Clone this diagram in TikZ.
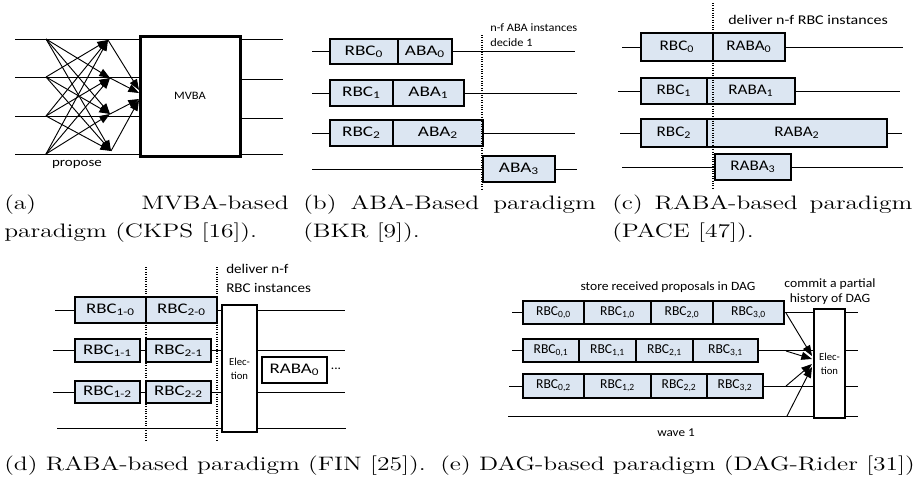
\documentclass[tikz,border=0pt]{standalone}
\usepackage{fontspec}
\usepackage{graphicx}
\newfontfamily\cf{Carlito}
\usetikzlibrary{arrows.meta,fit,calc}
\definecolor{boxblue}{RGB}{220,230,242}
\newcommand\hs[2][1.2]{\scalebox{#1}[1]{#2}}
\newcommand\bB[1]{\hs[1.31]{#1}}
\newcommand\bC[1]{\hs[1.17]{#1}}
\newcommand\bD[1]{\hs[1.29]{#1}}
\newcommand\bE[1]{\hs[1.0]{#1}}
\newcommand\cp[1]{\hs[1.31]{#1}}
\tikzset{
  ln/.style={line width=0.75pt},
  lbl/.style={font=\cf\fontsize{11}{12}\selectfont, inner sep=0pt},
  lble/.style={font=\cf\fontsize{10.2}{12}\selectfont, inner sep=0pt},
  bx/.style={draw, fill=boxblue, line width=0.8pt, inner sep=0pt},
  wbx/.style={bx, fill=white},
  ebx/.style={draw, fill=white, line width=0.8pt, inner sep=0pt},
  elbl/.style={align=center, inner sep=0pt, font=\cf\fontsize{8}{10.5}\selectfont},
  dots/.style={densely dotted, line width=0.8pt},
  captxt/.style={font=\fontsize{14.6}{18}\selectfont, inner sep=0pt, anchor=base west},
  arr/.style={-{Triangle[length=8pt,width=6pt]}, line width=0.7pt},
}
\begin{document}
\begin{tikzpicture}[x=0.75pt,y=-0.75pt]
\useasboundingbox (0,0) rectangle (914,487);

% ---------- (a) ----------
\node[draw, line width=2.25pt, inner sep=0pt, fit={(140,36)(240,156)}, label={[inner sep=0pt, font=\cf\fontsize{8.5}{11}\selectfont]center:{\hs[1.1]{MVBA}}}] (mv) {};
\foreach \i/\y in {0/39,1/77,2/116,3/154} {
  \coordinate (L\i) at (15,\y);
  \coordinate (S\i) at (46,\y);
  \draw[ln] (L\i) -- (L\i -| mv.west);
}
\foreach \i/\y in {0/39,1/79,2/118,3/154} {
  \coordinate (R\i) at (283,\y);
  \draw[ln] (mv.east |- R\i) -- (R\i);
}
\coordinate (T0) at (108,40);
\coordinate (T1) at (110,78);
\coordinate (T2) at (110,114);
\coordinate (T3) at (111,151);
\foreach \i in {0,1,2,3} {
  \foreach \j in {0,1,2,3} {
    \ifnum\i=\j\else \draw[arr] (S\i) -- (T\j); \fi
  }
}
\coordinate (M0) at (139,90);
\coordinate (M1) at (139,93);
\coordinate (M2) at (139,99);
\coordinate (M3) at (139,100);
\foreach \i in {0,1,2,3} { \draw[arr] (T\i) -- (M\i); }
\node[font=\cf\fontsize{9.5}{12}\selectfont, inner sep=0pt] (prop) at (77,164.5) {\hs[1.18]{propose}};

% ---------- (b) ----------
\node[bx, fit={(330,39)(398,64)}, label={[lbl]center:{\bB{RBC\textsubscript{0}}}}] (b0r) {};
\node[bx, fit={(398,39)(452,64)}, label={[lbl]center:{\bB{ABA\textsubscript{0}}}}] (b0a) {};
\node[bx, fit={(330,80)(393,106)}, label={[lbl]center:{\bB{RBC\textsubscript{1}}}}] (b1r) {};
\node[bx, fit={(393,80)(464,106)}, label={[lbl]center:{\bB{ABA\textsubscript{1}}}}] (b1a) {};
\node[bx, fit={(330,120)(393,146)}, label={[lbl]center:{\bB{RBC\textsubscript{2}}}}] (b2r) {};
\node[bx, fit={(393,120)(483,146)}, label={[lbl]center:{\bB{ABA\textsubscript{2}}}}] (b2a) {};
\node[bx, fit={(483,156)(555,182)}, label={[lbl]center:{\bB{ABA\textsubscript{3}}}}] (b3a) {};
\coordinate (bs0) at (312,51.5); \coordinate (be0) at (575,51.5);
\coordinate (bs1) at (312,93);   \coordinate (be1) at (577,93);
\coordinate (bs2) at (312,133);  \coordinate (be2) at (575,133);
\coordinate (bs3) at (312,169);  \coordinate (be3) at (577,169);
\draw[ln] (bs0) -- (b0r.west); \draw[ln] (b0a.east) -- (be0);
\draw[ln] (bs1) -- (b1r.west); \draw[ln] (b1a.east) -- (be1);
\draw[ln] (bs2) -- (b2r.west); \draw[ln] (b2a.east) -- (be2);
\draw[ln] (bs3) -- (b3a.west); \draw[ln] (b3a.east) -- (be3);
\coordinate (bdt) at (482,35); \coordinate (bdb) at (482,190);
\draw[dots] (bdt) -- (bdb);
\node[anchor=west, align=left, inner sep=0pt, font=\cf\fontsize{8.5}{11.25}\selectfont] (btxt) at (490,35.5) {\hs[1.09]{n-f ABA instances}\\\hs[1.09]{decide 1}};

% ---------- (c) ----------
\node[bx, fit={(641,33)(713,61)}, label={[lbl]center:{\bC{RBC\textsubscript{0}}}}] (c0r) {};
\node[bx, fit={(713,33)(785,61)}, label={[lbl]center:{\bC{RABA\textsubscript{0}}}}] (c0a) {};
\node[bx, fit={(641,78)(707,104)}, label={[lbl]center:{\bC{RBC\textsubscript{1}}}}] (c1r) {};
\node[bx, fit={(707,78)(795,104)}, label={[lbl]center:{\bC{RABA\textsubscript{1}}}}] (c1a) {};
\node[bx, fit={(641,119)(707,147)}, label={[lbl]center:{\bC{RBC\textsubscript{2}}}}] (c2r) {};
\node[bx, fit={(707,119)(887,147)}, label={[lbl]center:{\bC{RABA\textsubscript{2}}}}] (c2a) {};
\node[bx, fit={(715,154)(791,180)}, label={[lbl]center:{\bC{RABA\textsubscript{3}}}}] (c3a) {};
\coordinate (cs0) at (622,47);  \coordinate (ce0) at (903,47);
\coordinate (cs1) at (618,91);  \coordinate (ce1) at (900,91);
\coordinate (cs2) at (620,133); \coordinate (ce2) at (902,133);
\coordinate (cs3) at (622,167); \coordinate (ce3) at (903,167);
\draw[ln] (cs0) -- (c0r.west); \draw[ln] (c0a.east) -- (ce0);
\draw[ln] (cs1) -- (c1r.west); \draw[ln] (c1a.east) -- (ce1);
\draw[ln] (cs2) -- (c2r.west); \draw[ln] (c2a.east) -- (ce2);
\draw[ln] (cs3) -- (c3a.west); \draw[ln] (c3a.east) -- (ce3);
\coordinate (cdt) at (713,3); \coordinate (cdb) at (713,190);
\draw[dots] (cdt) -- (cdb);
\node[anchor=west, inner sep=0pt, font=\cf\fontsize{10}{13}\selectfont] (ctxt) at (728,20) {\hs[1.2]{deliver n-f RBC instances}};

% ---------- (d) ----------
\node[bx, fit={(75,297)(146,323)}, label={[lbl]center:{\bD{RBC\textsubscript{1-0}}}}] (d10) {};
\node[bx, fit={(146,297)(217,323)}, label={[lbl]center:{\bD{RBC\textsubscript{2-0}}}}] (d20) {};
\node[bx, fit={(75,339)(140,362)}, label={[lbl]center:{\bD{RBC\textsubscript{1-1}}}}] (d11) {};
\node[bx, fit={(146,339)(211,362)}, label={[lbl]center:{\bD{RBC\textsubscript{2-1}}}}] (d21) {};
\node[bx, fit={(75,381)(140,403)}, label={[lbl]center:{\bD{RBC\textsubscript{1-2}}}}] (d12) {};
\node[bx, fit={(146,381)(211,403)}, label={[lbl]center:{\bD{RBC\textsubscript{2-2}}}}] (d22) {};
\node[ebx, fit={(222,305)(257,432)}, label={[elbl]center:Elec-\\tion}] (del) {};
\node[wbx, fit={(262,357)(327,383)}, label={[lbl]center:{\bD{RABA\textsubscript{0}}}}] (draba) {};
\node[font=\cf\fontsize{10}{12}\selectfont, inner sep=0pt] (ddots) at (336,369) {...};
\coordinate (ds0) at (55,310);   \coordinate (de0) at (345,310);
\coordinate (ds1) at (53,350.5); \coordinate (de1) at (345,350.5);
\coordinate (ds2) at (53,392);   \coordinate (de2) at (345,392);
\coordinate (ds3) at (57,428);   \coordinate (de3) at (346,428);
\draw[ln] (ds0) -- (d10.west);
\draw[ln] (d20.east) -- (d20.east -| del.west);
\draw[ln] (del.east |- de0) -- (de0);
\draw[ln] (ds1) -- (d11.west); \draw[ln] (d11.east) -- (d21.west);
\draw[ln] (d21.east) -- (d21.east -| del.west);
\draw[ln] (del.east |- de1) -- (de1);
\draw[ln] (ds2) -- (d12.west); \draw[ln] (d12.east) -- (d22.west);
\draw[ln] (d22.east) -- (d22.east -| del.west);
\draw[ln] (del.east |- de2) -- (de2);
\draw[ln] (ds3) -- (ds3 -| del.west);
\draw[ln] (del.east |- de3) -- (de3);
\coordinate (dd1t) at (146,267); \coordinate (dd1b) at (146,440);
\coordinate (dd2t) at (217,267); \coordinate (dd2b) at (217,440);
\draw[dots] (dd1t) -- (dd1b);
\draw[dots] (dd2t) -- (dd2b);
\node[anchor=north west, align=left, inner sep=0pt, font=\cf\fontsize{10}{14.25}\selectfont] (dtxt) at (226,264) {\hs[1.13]{deliver n-f}\\\hs[1.13]{RBC instances}};

% ---------- (e) ----------
\node[bx, fit={(523,301)(584,324)}, label={[lble]center:{\bE{RBC\textsubscript{0,0}}}}] (e00) {};
\node[bx, fit={(584,301)(651,324)}, label={[lble]center:{\bE{RBC\textsubscript{1,0}}}}] (e10) {};
\node[bx, fit={(651,301)(713,324)}, label={[lble]center:{\bE{RBC\textsubscript{2,0}}}}] (e20) {};
\node[bx, fit={(713,301)(784,324)}, label={[lble]center:{\bE{RBC\textsubscript{3,0}}}}] (e30) {};
\node[bx, fit={(523,339)(579,362)}, label={[lble]center:{\bE{RBC\textsubscript{0,1}}}}] (e01) {};
\node[bx, fit={(579,339)(636,362)}, label={[lble]center:{\bE{RBC\textsubscript{1,1}}}}] (e11) {};
\node[bx, fit={(636,339)(693,362)}, label={[lble]center:{\bE{RBC\textsubscript{2,1}}}}] (e21) {};
\node[bx, fit={(693,339)(758,362)}, label={[lble]center:{\bE{RBC\textsubscript{3,1}}}}] (e31) {};
\node[bx, fit={(523,374)(584,398)}, label={[lble]center:{\bE{RBC\textsubscript{0,2}}}}] (e02) {};
\node[bx, fit={(584,374)(651,398)}, label={[lble]center:{\bE{RBC\textsubscript{1,2}}}}] (e12) {};
\node[bx, fit={(651,374)(707,398)}, label={[lble]center:{\bE{RBC\textsubscript{2,2}}}}] (e22) {};
\node[bx, fit={(707,374)(763,398)}, label={[lble]center:{\bE{RBC\textsubscript{3,2}}}}] (e32) {};
\node[ebx, fit={(814,309)(845,418)}, label={[elbl]center:Elec-\\tion}] (eel) {};
\coordinate (es0) at (512,312.5); \coordinate (ee0) at (858,312.5);
\coordinate (es1) at (512,350.5); \coordinate (ee1) at (858,350.5);
\coordinate (es2) at (509,386);   \coordinate (ee2) at (858,386);
\coordinate (es3) at (508,416);   \coordinate (ee3) at (858,416);
\draw[ln] (es0) -- (e00.west);
\draw[ln] (e30.east) -- (e30.east -| eel.west);
\draw[ln] (eel.east |- ee0) -- (ee0);
\draw[ln] (es1) -- (e01.west);
\draw[ln] (e31.east) -- (e31.east -| eel.west);
\draw[ln] (eel.east |- ee1) -- (ee1);
\draw[ln] (es2) -- (e02.west);
\draw[ln] (e32.east) -- (e32.east -| eel.west);
\draw[ln] (eel.east |- ee2) -- (ee2);
\draw[ln] (es3) -- (es3 -| eel.west);
\draw[ln] (eel.east |- ee3) -- (ee3);
\coordinate (ea0) at (786,313); \coordinate (eb0) at (812,356);
\coordinate (ea1) at (786,351); \coordinate (eb1) at (812,359);
\coordinate (ea2) at (786,386); \coordinate (eb2) at (812,364);
\coordinate (ea3) at (787,416); \coordinate (eb3) at (812,367);
\foreach \i in {0,1,2,3} { \draw[arr] (ea\i) -- (eb\i); }
\node[font=\cf\fontsize{9.5}{12}\selectfont, inner sep=0pt] (etxt) at (668,287) {\hs[1.07]{store received proposals in DAG}};
\node[align=center, font=\cf\fontsize{9.5}{11.25}\selectfont, inner sep=0pt] (ctop) at (830,291.5) {\hs[1.08]{commit a partial}\\\hs[1.08]{history of DAG}};
\node[font=\cf\fontsize{9}{12}\selectfont, inner sep=0pt] (wave) at (676,433) {\hs[1.1]{wave 1}};

% ---------- captions ----------
\node[captxt] (ca1) at (4,209) {\cp{\makebox[162.9pt][s]{(a) MVBA-based}}};
\node[captxt] (ca2) at (4,237) {\cp{paradigm (CKPS [16]).}};
\node[captxt] (cb1) at (303,209) {\cp{\makebox[167.6pt][s]{(b) ABA-Based paradigm}}};
\node[captxt] (cb2) at (303,237) {\cp{(BKR [9]).}};
\node[captxt] (cc1) at (612,209) {\cp{\makebox[171.8pt][s]{(c) RABA-based paradigm}}};
\node[captxt] (cc2) at (612,237) {\cp{(PACE [47]).}};
\node[captxt] (cd) at (4,470) {\cp{(d) RABA-based paradigm (FIN [25]).}};
\node[captxt] (ce) at (440,470) {\cp{(e) DAG-based paradigm (DAG-Rider [31]).}};
\end{tikzpicture}
\end{document}
